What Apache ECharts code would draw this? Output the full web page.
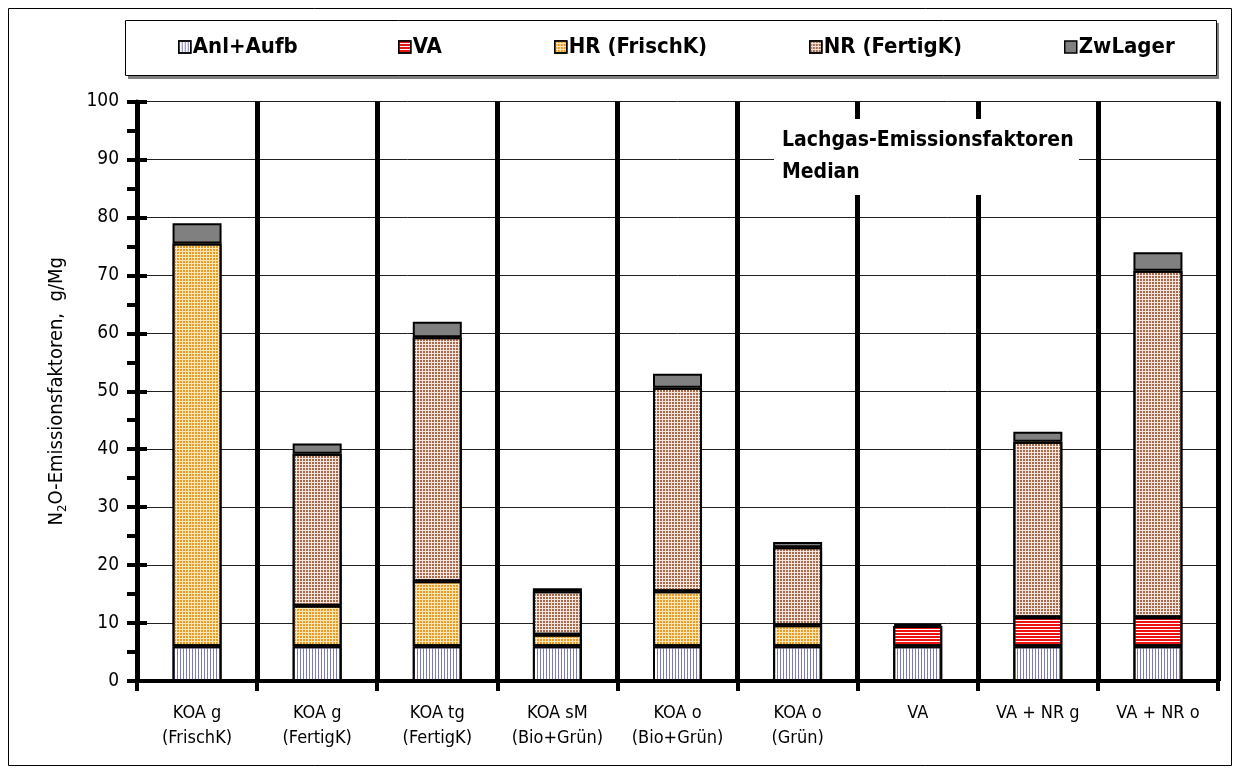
<!DOCTYPE html>
<html><head><meta charset="utf-8">
<script src="https://cdn.jsdelivr.net/npm/echarts@6/dist/echarts.min.js"></script>
<style>html,body{margin:0;padding:0;background:#fff}#c{width:1240px;height:774px}</style>
</head><body><div id="c"></div>
<script>
const categories = ['KOA g\n(FrischK)', 'KOA g\n(FertigK)', 'KOA tg\n(FertigK)', 'KOA sM\n(Bio+Grün)', 'KOA o\n(Bio+Grün)', 'KOA o\n(Grün)', 'VA', 'VA + NR g', 'VA + NR o'];
const seriesNames = ['Anl+Aufb', 'VA', 'HR (FrischK)', 'NR (FertigK)', 'ZwLager'];
const anlAufb = [6, 6, 6, 6, 6, 6, 6, 6, 6];
const vaVals = [null, null, null, null, null, null, 3.5, 5, 5];
const hrVals = [69.5, 7, 11.2, 2, 9.5, 3.6, null, null, null];
const nrVals = [null, 26.2, 42.1, 7.5, 35.1, 13.5, null, 30.3, 59.8];
const zwVals = [3.5, 1.8, 2.7, 0.5, 2.4, 0.9, 0.3, 1.7, 3.2];

const FONT = '"Liberation Sans Narrow", "Arial Narrow", "DejaVu Sans Condensed", sans-serif';
const chart = echarts.init(document.getElementById('c'), null, {renderer: 'canvas'});

const styles = [
  {color: '#ffffff', decal: {symbol: 'rect', color: '#7a7ac0', dashArrayX: [1, 2], dashArrayY: [4, 0], symbolSize: 1}},
  {color: '#ffffff', decal: {symbol: 'rect', color: '#ee1111', dashArrayX: [4, 0], dashArrayY: [2, 1], symbolSize: 1}},
  {color: '#fbe6b4', decal: {symbol: 'rect', color: '#eb9a2a', dashArrayX: [2, 1], dashArrayY: [2, 1], symbolSize: 1}},
  {color: '#f3e6de', decal: {symbol: 'rect', color: '#a8694a', dashArrayX: [2, 1], dashArrayY: [2, 1], symbolSize: 1}},
  {color: '#808080'}
];
const dataSets = [anlAufb, vaVals, hrVals, nrVals, zwVals];

const series = seriesNames.map((n, i) => ({
  name: n, type: 'bar', stack: 'total', data: dataSets[i], barWidth: 49,
  itemStyle: Object.assign({borderColor: '#000', borderWidth: 2}, styles[i]),
  emphasis: {disabled: true}, z: 3
}));

const legendLefts = [178, 398, 554, 809, 1064];
const legends = seriesNames.map((n, i) => ({
  data: [n], top: 36, left: legendLefts[i], itemWidth: 12, itemHeight: 12, itemGap: 0,
  icon: 'rect', selectedMode: false, padding: 0,
  itemStyle: {borderColor: '#000', borderWidth: 1.5},
  textStyle: {fontFamily: FONT, fontSize: 22, fontWeight: 'bold', color: '#000', padding: [0, 0, 0, -3]}
}));

chart.setOption({
  animation: false,
  textStyle: {fontFamily: FONT},
  graphic: [
    {type: 'rect', shape: {x: 8.5, y: 8.5, width: 1223, height: 757}, style: {fill: 'none', stroke: '#000', lineWidth: 1}, z: -10},
    {type: 'rect', shape: {x: 128, y: 23, width: 1091, height: 56}, style: {fill: '#808080'}, z: -5},
    {type: 'rect', shape: {x: 125.5, y: 20.5, width: 1091, height: 55}, style: {fill: '#fff', stroke: '#000', lineWidth: 1}, z: -4},
    {type: 'rect', shape: {x: 774, y: 119, width: 305, height: 76}, style: {fill: '#fff'}, z: 50},
    {type: 'text', x: 782, y: 125, z: 51, style: {text: 'Lachgas-Emissionsfaktoren\nMedian', fontFamily: FONT, fontSize: 21, fontWeight: 'bold', fill: '#000', lineHeight: 32, textVerticalAlign: 'top'}}
  ],
  legend: legends,
  grid: {left: 137, right: 22, top: 101.5, bottom: 93, containLabel: false},
  xAxis: {
    type: 'category', data: categories,
    axisLine: {lineStyle: {color: '#000', width: 4}},
    axisTick: {show: true, length: 10, lineStyle: {color: '#000', width: 4}},
    axisLabel: {fontFamily: FONT, fontSize: 18, color: '#000', margin: 20, lineHeight: 25, interval: 0},
    splitLine: {show: true, interval: 0, lineStyle: {color: '#000', width: 5}}
  },
  yAxis: [{
    type: 'value', min: 0, max: 100, interval: 10,
    name: '{a|N}{s|2}{a|O-Emissionsfaktoren,  g/Mg}', nameLocation: 'middle', nameGap: 68, nameRotate: 90,
    nameTextStyle: {rich: {a: {fontFamily: FONT, fontSize: 20, color: '#000', lineHeight: 24}, s: {fontFamily: FONT, fontSize: 13, color: '#000', lineHeight: 24, verticalAlign: 'bottom', padding: [9, 0, 0, 0]}}},
    axisLine: {show: true, lineStyle: {color: '#000', width: 4}},
    axisTick: {show: true, length: 10, lineStyle: {color: '#000', width: 4}},
    minorTick: {show: true, splitNumber: 2, length: 10, lineStyle: {color: '#000', width: 4}},
    axisLabel: {fontFamily: FONT, fontSize: 19, color: '#000', margin: 18},
    splitLine: {show: true, lineStyle: {color: '#222', width: 1}}
  }, {
    type: 'value', min: 0, max: 100, interval: 10, position: 'left',
    axisLine: {show: false}, axisLabel: {show: false}, splitLine: {show: false},
    axisTick: {show: true, inside: true, length: 10, lineStyle: {color: '#000', width: 4}}
  }],
  series: series
});
</script></body></html>
